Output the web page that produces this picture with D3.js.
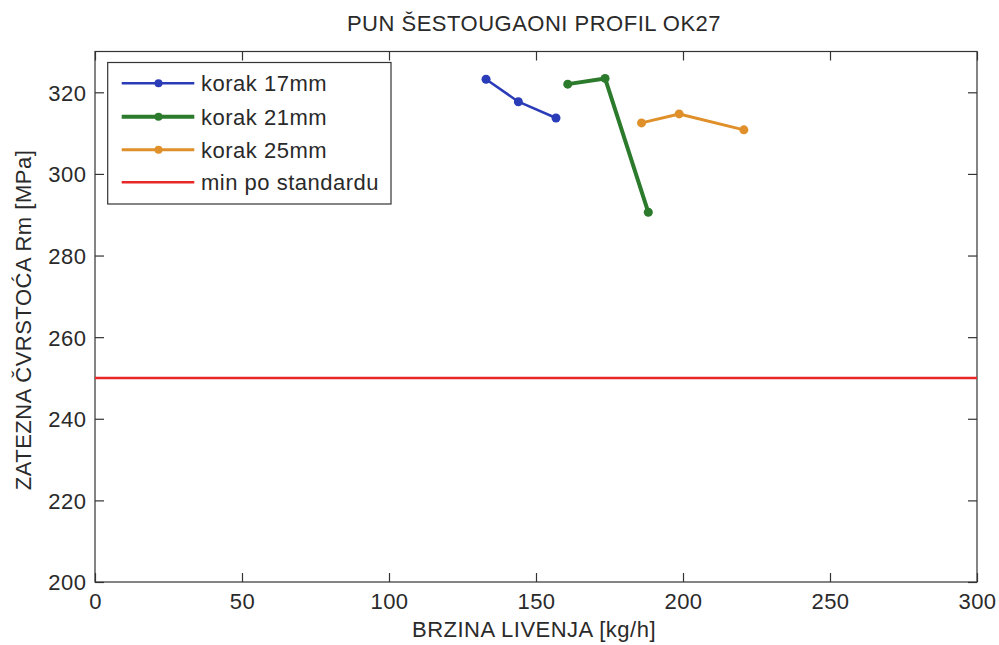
<!DOCTYPE html>
<html><head><meta charset="utf-8">
<script src="https://cdn.jsdelivr.net/npm/d3@7"></script>
<style>
body{margin:0;background:#fff;}
text{font-family:"Liberation Sans",Arial,sans-serif;fill:#2a2a2a;letter-spacing:0.5px;}
</style></head>
<body><svg id="c" width="999" height="645"></svg>
<script>
const title = "PUN ŠESTOUGAONI PROFIL OK27";
const xLabel = "BRZINA LIVENJA [kg/h]";
const yLabel = "ZATEZNA ČVRSTOĆA Rm [MPa]";
const seriesNames = ["korak 17mm", "korak 21mm", "korak 25mm", "min po standardu"];
const x17 = [133.0, 144.0, 156.8];
const y17 = [323.2, 317.7, 313.7];
const x21 = [160.8, 173.5, 188.2];
const y21 = [322.0, 323.4, 290.6];
const x25 = [185.9, 198.7, 220.7];
const y25 = [312.5, 314.7, 310.8];
const minX = [0, 300];
const minY = [250, 250];
const xTicks = [0, 50, 100, 150, 200, 250, 300];
const yTicks = [200, 220, 240, 260, 280, 300, 320];
const xDomain = [0, 300];
const yDomain = [200, 330];

const colors = ["#2b3cb8", "#2c7a2c", "#e0902a", "#e82828"];
const widths = [2.5, 4, 3, 2.5];
const markers = [true, true, true, false];

const FS = 22;
const svg = d3.select("#c");
const L = 95, R = 977, T = 51.5, B = 582;
const x = d3.scaleLinear().domain(xDomain).range([L, R]);
const y = d3.scaleLinear().domain(yDomain).range([B, T]);

const series = [
  d3.zip(x17, y17), d3.zip(x21, y21), d3.zip(x25, y25), d3.zip(minX, minY)
];

const axCol = "#333";
svg.append("rect").attr("x", L).attr("y", T).attr("width", R - L).attr("height", B - T)
  .attr("fill", "none").attr("stroke", axCol).attr("stroke-width", 1.2);

const gx = svg.append("g").attr("transform", `translate(0,${B})`)
  .call(d3.axisBottom(x).tickValues(xTicks).tickSizeInner(-9).tickSizeOuter(0).tickPadding(11.5));
const gxt = svg.append("g").attr("transform", `translate(0,${T})`)
  .call(d3.axisTop(x).tickValues(xTicks).tickSizeInner(-9).tickSizeOuter(0).tickFormat(""));
const gy = svg.append("g").attr("transform", `translate(${L},0)`)
  .call(d3.axisLeft(y).tickValues(yTicks).tickSizeInner(-9).tickSizeOuter(0).tickPadding(8.5));
const gyr = svg.append("g").attr("transform", `translate(${R},0)`)
  .call(d3.axisRight(y).tickValues(yTicks).tickSizeInner(-9).tickSizeOuter(0).tickFormat(""));
[gx, gxt, gy, gyr].forEach(g => {
  g.select(".domain").remove();
  g.selectAll("line").attr("stroke", axCol).attr("stroke-width", 1.2);
  g.selectAll("text").attr("font-size", FS).attr("fill", "#2a2a2a")
    .attr("font-family", "Liberation Sans, Arial, sans-serif");
});
gx.selectAll("text").attr("dy", "0.71em");
gy.selectAll("text").attr("dy", "0.36em");

const line = d3.line().x(d => x(d[0])).y(d => y(d[1]));
series.forEach((s, i) => {
  svg.append("path").datum(s).attr("d", line).attr("fill", "none")
    .attr("stroke", colors[i]).attr("stroke-width", widths[i]).attr("stroke-linejoin", "round");
  if (markers[i]) {
    svg.selectAll(null).data(s).enter().append("circle")
      .attr("cx", d => x(d[0])).attr("cy", d => y(d[1])).attr("r", 4.5).attr("fill", colors[i]);
  }
});

svg.append("text").attr("x", 534).attr("y", 31).attr("text-anchor", "middle")
  .attr("font-size", FS).text(title);
svg.append("text").attr("x", 534).attr("y", 637).attr("text-anchor", "middle")
  .attr("font-size", FS).text(xLabel);
svg.append("text").attr("transform", "translate(31,320) rotate(-90)").attr("text-anchor", "middle")
  .attr("font-size", FS).text(yLabel);

const lg = svg.append("g");
lg.append("rect").attr("x", 107.7).attr("y", 62.5).attr("width", 283.3).attr("height", 141.5)
  .attr("fill", "#fff").attr("stroke", axCol).attr("stroke-width", 1.2);
const ly = [83.3, 116.8, 149.8, 182.3];
seriesNames.forEach((n, i) => {
  lg.append("line").attr("x1", 121.7).attr("x2", 194.3).attr("y1", ly[i]).attr("y2", ly[i])
    .attr("stroke", colors[i]).attr("stroke-width", widths[i]);
  if (markers[i]) lg.append("circle").attr("cx", 158.5).attr("cy", ly[i]).attr("r", 4).attr("fill", colors[i]);
  lg.append("text").attr("x", 201).attr("y", ly[i]).attr("dy", "0.36em").attr("font-size", FS).text(n);
});
</script></body></html>
